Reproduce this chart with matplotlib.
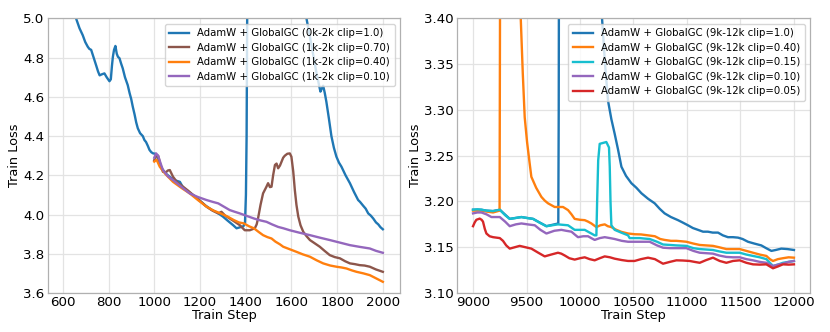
import matplotlib
matplotlib.use("Agg")
import matplotlib.pyplot as plt
from matplotlib.ticker import FormatStrFormatter

# ---------------- Left panel data ----------------
left_blue_x = [0, 200, 400, 550, 620, 658, 673, 687, 698, 709, 716, 724, 735, 746, 754, 761, 770, 782, 792, 804,
               810, 815, 819, 824, 830, 836, 841, 848, 855, 862, 872, 884, 892, 899, 906, 914, 921, 928, 938, 950,
               957, 964, 972, 979, 987, 995, 1005, 1015, 1030, 1050, 1070, 1090, 1112, 1125, 1150, 1175, 1200,
               1225, 1250, 1275, 1300, 1320, 1345, 1360, 1375, 1390, 1397, 1401, 1404, 1407, 1412, 1450, 1550,
               1640, 1666, 1690, 1710, 1721, 1727, 1732, 1739, 1746, 1753, 1764, 1775, 1786, 1797, 1808, 1819,
               1837, 1856, 1874, 1892, 1900, 1914, 1925, 1936, 1947, 1958, 1970, 1980, 1990, 2000]
left_blue_y = [11.0, 7.5, 6.0, 5.35, 5.1, 5.0, 4.95, 4.915, 4.88, 4.856, 4.845, 4.84, 4.80, 4.76, 4.73, 4.71, 4.715,
               4.72, 4.70, 4.68, 4.69, 4.76, 4.805, 4.84, 4.86, 4.82, 4.805, 4.797, 4.77, 4.746, 4.70, 4.66, 4.62,
               4.59, 4.55, 4.51, 4.47, 4.44, 4.415, 4.40, 4.38, 4.37, 4.35, 4.33, 4.318, 4.312, 4.31, 4.29, 4.24,
               4.21, 4.19, 4.175, 4.167, 4.14, 4.115, 4.095, 4.07, 4.045, 4.025, 4.01, 3.99, 3.97, 3.946, 3.93,
               3.935, 3.94, 3.96, 4.1, 4.4, 5.1, 6.0, 6.3, 6.0, 5.4, 5.0, 4.85, 4.72, 4.66, 4.627, 4.64, 4.657,
               4.62, 4.575, 4.49, 4.40, 4.34, 4.295, 4.265, 4.244, 4.20, 4.16, 4.115, 4.074, 4.065, 4.045, 4.03,
               4.006, 3.995, 3.98, 3.96, 3.95, 3.935, 3.925]

left_brown_x = [1000, 1008, 1017, 1028, 1038, 1050, 1060, 1068, 1075, 1082, 1100, 1126, 1150, 1170, 1200, 1229,
                1255, 1280, 1294, 1310, 1330, 1350, 1374, 1396, 1418, 1440, 1448, 1454, 1465, 1476, 1490, 1498,
                1506, 1513, 1520, 1528, 1535, 1542, 1550, 1557, 1564, 1571, 1582, 1593, 1600, 1608, 1615, 1622,
                1630, 1640, 1652, 1666, 1681, 1700, 1724, 1745, 1768, 1790, 1812, 1835, 1856, 1878, 1899, 1920,
                1943, 1970, 2000]
left_brown_y = [4.278, 4.30, 4.30, 4.25, 4.218, 4.215, 4.225, 4.227, 4.21, 4.193, 4.165, 4.142, 4.12, 4.10, 4.07,
                4.04, 4.02, 4.006, 4.014, 3.995, 3.98, 3.965, 3.946, 3.92, 3.92, 3.93, 3.95, 3.98, 4.05, 4.108,
                4.14, 4.16, 4.14, 4.142, 4.2, 4.253, 4.26, 4.236, 4.25, 4.27, 4.29, 4.30, 4.31, 4.312, 4.295, 4.22,
                4.125, 4.05, 3.99, 3.945, 3.912, 3.89, 3.87, 3.855, 3.836, 3.815, 3.793, 3.783, 3.777, 3.762,
                3.751, 3.747, 3.742, 3.74, 3.734, 3.72, 3.708]

left_orange_x = [1000, 1010, 1024, 1050, 1082, 1120, 1155, 1190, 1229, 1260, 1290, 1320, 1348, 1370, 1392, 1415,
                 1436, 1456, 1476, 1495, 1513, 1530, 1550, 1564, 1593, 1622, 1650, 1681, 1710, 1739, 1770, 1797,
                 1820, 1841, 1865, 1885, 1915, 1943, 1970, 2000]
left_orange_y = [4.27, 4.28, 4.244, 4.205, 4.167, 4.135, 4.108, 4.075, 4.04, 4.02, 4.006, 3.99, 3.972, 3.96,
                 3.955, 3.94, 3.93, 3.912, 3.895, 3.885, 3.878, 3.862, 3.848, 3.836, 3.823, 3.81, 3.797, 3.785,
                 3.767, 3.751, 3.74, 3.734, 3.73, 3.725, 3.715, 3.708, 3.70, 3.691, 3.675, 3.657]

left_purple_x = [1000, 1008, 1017, 1028, 1038, 1060, 1082, 1120, 1155, 1190, 1229, 1255, 1280, 1305, 1330, 1350,
                 1374, 1405, 1436, 1465, 1491, 1515, 1542, 1565, 1593, 1637, 1681, 1725, 1768, 1812, 1856, 1900,
                 1943, 1970, 2000]
left_purple_y = [4.29, 4.312, 4.30, 4.26, 4.227, 4.195, 4.176, 4.14, 4.108, 4.09, 4.074, 4.065, 4.057, 4.04,
                 4.023, 4.015, 4.006, 3.993, 3.98, 3.97, 3.963, 3.95, 3.937, 3.93, 3.92, 3.907, 3.895, 3.882,
                 3.87, 3.857, 3.844, 3.835, 3.827, 3.815, 3.805]

left_labels = ["AdamW + GlobalGC (0k-2k clip=1.0)", "AdamW + GlobalGC (1k-2k clip=0.70)",
               "AdamW + GlobalGC (1k-2k clip=0.40)", "AdamW + GlobalGC (1k-2k clip=0.10)"]
left_xticks = [600, 800, 1000, 1200, 1400, 1600, 1800, 2000]
left_yticks = [3.6, 3.8, 4.0, 4.2, 4.4, 4.6, 4.8, 5.0]

# ---------------- Right panel data ----------------
right_blue_x = [9000, 9078, 9125, 9187, 9250, 9343, 9452, 9561, 9686, 9760, 9797, 9801, 9805, 9850, 10000, 10150,
                10206, 10234, 10262, 10293, 10324, 10355, 10387, 10430, 10480, 10527, 10574, 10636, 10698, 10745,
                10791, 10850, 10916, 10960, 11009, 11055, 11103, 11150, 11196, 11240, 11290, 11335, 11383, 11430,
                11477, 11520, 11570, 11630, 11695, 11740, 11789, 11830, 11882, 11940, 12000]
right_blue_y = [3.191, 3.191, 3.190, 3.1895, 3.191, 3.181, 3.183, 3.181, 3.173, 3.175, 3.176, 3.30, 3.6, 3.9, 3.8,
                3.5, 3.40, 3.35, 3.31, 3.29, 3.274, 3.257, 3.238, 3.228, 3.22, 3.215, 3.209, 3.203, 3.198, 3.192,
                3.187, 3.183, 3.1796, 3.177, 3.174, 3.171, 3.169, 3.167, 3.167, 3.166, 3.166, 3.163, 3.161, 3.161,
                3.1605, 3.159, 3.156, 3.154, 3.152, 3.149, 3.146, 3.147, 3.1485, 3.148, 3.147]

right_orange_x = [9000, 9078, 9125, 9187, 9248, 9252, 9256, 9300, 9400, 9446, 9465, 9483, 9505, 9530, 9545, 9590,
                  9639, 9670, 9701, 9763, 9800, 9841, 9888, 9920, 9950, 10000, 10044, 10075, 10106, 10153, 10190,
                  10231, 10260, 10293, 10340, 10387, 10450, 10511, 10570, 10636, 10700, 10750, 10791, 10850, 10901,
                  10950, 10994, 11060, 11119, 11180, 11243, 11300, 11368, 11430, 11493, 11555, 11617, 11680, 11742,
                  11775, 11804, 11850, 11897, 11950, 12000]
right_orange_y = [3.190, 3.190, 3.189, 3.188, 3.190, 3.40, 3.7, 3.9, 3.6, 3.40, 3.34, 3.292, 3.265, 3.241, 3.227,
                  3.215, 3.205, 3.201, 3.198, 3.194, 3.194, 3.194, 3.1906, 3.186, 3.181, 3.180, 3.1796, 3.178,
                  3.176, 3.172, 3.174, 3.175, 3.173, 3.172, 3.169, 3.1668, 3.165, 3.1642, 3.164, 3.163, 3.162,
                  3.159, 3.158, 3.157, 3.157, 3.1565, 3.156, 3.154, 3.1525, 3.152, 3.1515, 3.15, 3.148, 3.148,
                  3.148, 3.146, 3.144, 3.142, 3.1405, 3.137, 3.135, 3.137, 3.138, 3.139, 3.1386]

right_cyan_x = [9000, 9040, 9078, 9125, 9187, 9250, 9300, 9343, 9400, 9452, 9500, 9561, 9620, 9686, 9740, 9794,
                9840, 9888, 9950, 10000, 10044, 10090, 10137, 10153, 10160, 10170, 10184, 10215, 10246, 10271,
                10278, 10285, 10293, 10324, 10385, 10449, 10464, 10510, 10558, 10600, 10651, 10720, 10776, 10840,
                10901, 10994, 11060, 11119, 11180, 11243, 11300, 11368, 11430, 11493, 11555, 11617, 11680, 11742,
                11775, 11804, 11850, 11897, 11950, 12000]
right_cyan_y = [3.191, 3.1915, 3.191, 3.190, 3.1895, 3.191, 3.185, 3.181, 3.182, 3.183, 3.182, 3.181, 3.177,
                3.173, 3.174, 3.175, 3.1745, 3.174, 3.169, 3.169, 3.169, 3.166, 3.163, 3.163, 3.20, 3.245, 3.263,
                3.264, 3.265, 3.259, 3.238, 3.20, 3.174, 3.169, 3.166, 3.163, 3.160, 3.160, 3.160, 3.1595, 3.159,
                3.156, 3.153, 3.1525, 3.152, 3.1515, 3.149, 3.148, 3.1475, 3.147, 3.1455, 3.144, 3.144, 3.144,
                3.142, 3.1405, 3.139, 3.137, 3.133, 3.1295, 3.131, 3.133, 3.134, 3.135]

right_purple_x = [9000, 9040, 9078, 9125, 9172, 9210, 9250, 9300, 9343, 9400, 9452, 9510, 9577, 9630, 9686, 9760,
                  9826, 9870, 9920, 9950, 9981, 10030, 10075, 10105, 10137, 10185, 10231, 10280, 10324, 10390,
                  10449, 10550, 10651, 10720, 10776, 10840, 10901, 10994, 11060, 11119, 11180, 11243, 11300, 11368,
                  11430, 11493, 11555, 11617, 11680, 11742, 11775, 11804, 11850, 11897, 11950, 12000]
right_purple_y = [3.187, 3.188, 3.188, 3.186, 3.183, 3.183, 3.183, 3.178, 3.173, 3.175, 3.176, 3.175, 3.174,
                  3.169, 3.165, 3.168, 3.169, 3.168, 3.167, 3.164, 3.161, 3.162, 3.162, 3.160, 3.158, 3.160, 3.161,
                  3.160, 3.159, 3.157, 3.156, 3.156, 3.156, 3.152, 3.1495, 3.149, 3.149, 3.149, 3.146, 3.144,
                  3.1435, 3.143, 3.141, 3.1394, 3.139, 3.139, 3.137, 3.1357, 3.134, 3.133, 3.131, 3.1295, 3.131,
                  3.132, 3.134, 3.135]

right_red_x = [9000, 9015, 9031, 9062, 9080, 9093, 9110, 9125, 9155, 9187, 9250, 9280, 9310, 9343, 9390, 9436,
               9490, 9545, 9610, 9670, 9730, 9794, 9825, 9857, 9900, 9950, 10000, 10044, 10090, 10137, 10185, 10231,
               10280, 10324, 10390, 10449, 10510, 10570, 10636, 10700, 10776, 10840, 10901, 10960, 11025, 11070,
               11119, 11180, 11243, 11270, 11306, 11368, 11430, 11493, 11555, 11617, 11680, 11742, 11775, 11804,
               11850, 11897, 11950, 12000]
right_red_y = [3.173, 3.177, 3.180, 3.1813, 3.180, 3.178, 3.170, 3.165, 3.162, 3.161, 3.160, 3.157, 3.152, 3.1485,
               3.150, 3.1515, 3.150, 3.1485, 3.144, 3.140, 3.142, 3.144, 3.143, 3.141, 3.138, 3.1365, 3.138, 3.139,
               3.137, 3.1357, 3.138, 3.140, 3.139, 3.1375, 3.136, 3.135, 3.135, 3.137, 3.1386, 3.137, 3.132, 3.134,
               3.1357, 3.1355, 3.135, 3.134, 3.133, 3.136, 3.1386, 3.137, 3.135, 3.133, 3.135, 3.1357, 3.133,
               3.1313, 3.131, 3.1313, 3.129, 3.127, 3.129, 3.1313, 3.131, 3.1313]

right_labels = ["AdamW + GlobalGC (9k-12k clip=1.0)", "AdamW + GlobalGC (9k-12k clip=0.40)",
                "AdamW + GlobalGC (9k-12k clip=0.15)", "AdamW + GlobalGC (9k-12k clip=0.10)",
                "AdamW + GlobalGC (9k-12k clip=0.05)"]
right_xticks = [9000, 9500, 10000, 10500, 11000, 11500, 12000]
right_yticks = [3.10, 3.15, 3.20, 3.25, 3.30, 3.35, 3.40]

# ---------------- Plot ----------------
plt.rcParams['font.family'] = ['DejaVu Sans']
fig = plt.figure(figsize=(8.3, 3.32), dpi=100)
ax1 = fig.add_axes([0.0578, 0.1175, 0.4241, 0.8268])
ax2 = fig.add_axes([0.5506, 0.1175, 0.4253, 0.8268])

lw = 1.7
ax1.plot(left_blue_x, left_blue_y, color='#1f77b4', lw=lw, label=left_labels[0])
ax1.plot(left_brown_x, left_brown_y, color='#8c564b', lw=lw, label=left_labels[1])
ax1.plot(left_orange_x, left_orange_y, color='#ff7f0e', lw=lw, label=left_labels[2])
ax1.plot(left_purple_x, left_purple_y, color='#9467bd', lw=lw, label=left_labels[3])
ax1.set_xlim(535, 2075)
ax1.set_ylim(3.6, 5.0)
ax1.set_xticks(left_xticks)
ax1.set_yticks(left_yticks)
ax1.yaxis.set_major_formatter(FormatStrFormatter('%.1f'))

ax2.plot(right_blue_x, right_blue_y, color='#1f77b4', lw=lw, label=right_labels[0])
ax2.plot(right_orange_x, right_orange_y, color='#ff7f0e', lw=lw, label=right_labels[1])
ax2.plot(right_cyan_x, right_cyan_y, color='#17becf', lw=lw, label=right_labels[2])
ax2.plot(right_purple_x, right_purple_y, color='#9467bd', lw=lw, label=right_labels[3])
ax2.plot(right_red_x, right_red_y, color='#d62728', lw=lw, label=right_labels[4])
ax2.set_xlim(8850, 12150)
ax2.set_ylim(3.10, 3.40)
ax2.set_xticks(right_xticks)
ax2.set_yticks(right_yticks)
ax2.yaxis.set_major_formatter(FormatStrFormatter('%.2f'))

for ax in (ax1, ax2):
    ax.grid(True, color='#e3e3e3', lw=0.9)
    ax.set_axisbelow(True)
    for s in ax.spines.values():
        s.set_color('#b0b0b0')
        s.set_linewidth(0.9)
    ax.tick_params(axis='both', length=0, labelsize=9.6, pad=2.5)
    ax.tick_params(axis='x', pad=2)
    ax.set_xlabel('Train Step', fontsize=9.3, labelpad=0.5)
    ax.set_ylabel('Train Loss', fontsize=9.3, labelpad=1.5)
    leg = ax.legend(loc='upper right', fontsize=7.3, frameon=True, framealpha=0.8,
                    handlelength=2.0, borderpad=0.45, labelspacing=0.45)
    leg.get_frame().set_edgecolor('#cccccc')

fig.savefig('out.png', dpi=100)
